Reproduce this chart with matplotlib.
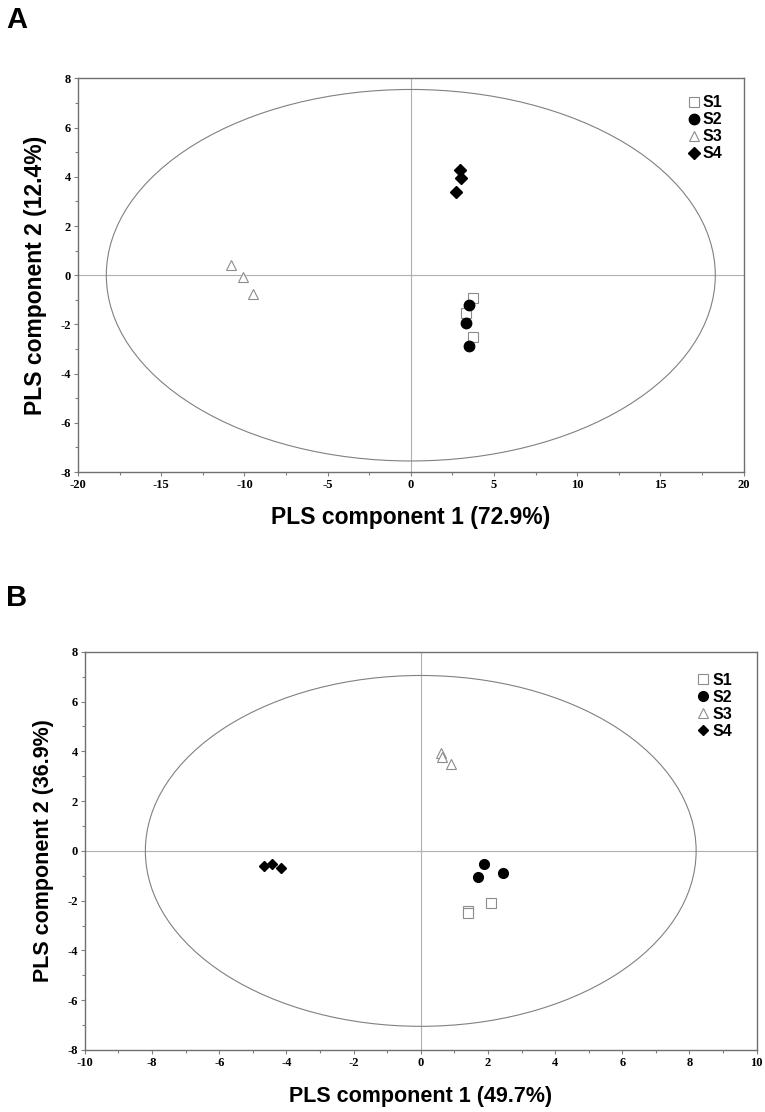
import numpy as np
import matplotlib.pyplot as plt
from matplotlib.patches import Ellipse
from matplotlib.ticker import MultipleLocator

plt.rcParams['axes.unicode_minus'] = False

# --- panel A scores ---
a_s1_x = [3.72, 3.30, 3.72]
a_s1_y = [-0.92, -1.53, -2.53]
a_s2_x = [3.48, 3.33, 3.48]
a_s2_y = [-1.22, -1.96, -2.89]
a_s3_x = [-10.8, -10.1, -9.5]
a_s3_y = [0.41, -0.09, -0.78]
a_s4_x = [2.97, 3.03, 2.70]
a_s4_y = [4.27, 3.96, 3.39]

# --- panel B scores ---
b_s1_x = [1.40, 1.42, 2.08]
b_s1_y = [-2.40, -2.50, -2.08]
b_s2_x = [1.89, 2.44, 1.70]
b_s2_y = [-0.53, -0.87, -1.03]
b_s3_x = [0.60, 0.64, 0.89]
b_s3_y = [3.95, 3.79, 3.51]
b_s4_x = [-4.67, -4.44, -4.17]
b_s4_y = [-0.59, -0.52, -0.68]

labels = ['S1', 'S2', 'S3', 'S4']

tick_font = dict(family='Liberation Serif', weight='bold', size=9)
label_font = dict(family='Liberation Sans', weight='bold')

def draw_panel(ax, xs, ys, ell_w, ell_h, xlim, xmaj, xmin, xlabel, ylabel, lab_size, ms,
               xpad, leg_anchor):
    ax.axhline(0, color='#b0b0b0', lw=0.8, zorder=1)
    ax.axvline(0, color='#b0b0b0', lw=0.8, zorder=1)
    ax.add_patch(Ellipse((0, 0), 2 * ell_w, 2 * ell_h, fill=False,
                         edgecolor='#808080', lw=0.8, zorder=1))
    styles = [
        dict(marker='s', mfc='white', mec='#8c8c8c', mew=0.8, ms=ms),
        dict(marker='o', mfc='black', mec='black', ms=ms + 0.5),
        dict(marker='^', mfc='white', mec='#8c8c8c', mew=0.8, ms=ms + 0.5),
        dict(marker='D', mfc='black', mec='black', ms=ms - 1),
    ]
    for (x, y), st, lab in zip(zip(xs, ys), styles, labels):
        ax.plot(x, y, ls='none', label=lab, zorder=3, **st)

    ax.set_xlim(*xlim)
    ax.set_ylim(-8, 8)
    ax.xaxis.set_major_locator(MultipleLocator(xmaj))
    ax.xaxis.set_minor_locator(MultipleLocator(xmin))
    ax.yaxis.set_major_locator(MultipleLocator(2))
    ax.yaxis.set_minor_locator(MultipleLocator(1))
    ax.tick_params(which='both', direction='out', color='#808080', width=0.8, pad=2)
    ax.tick_params(which='major', length=3)
    ax.tick_params(which='minor', length=2)
    for t in ax.get_xticklabels() + ax.get_yticklabels():
        t.set_fontproperties(tick_font)
    for sp in ax.spines.values():
        sp.set_color('#707070')
        sp.set_linewidth(1.0)
    ax.set_xlabel(xlabel, fontsize=lab_size, labelpad=xpad, **label_font)
    ax.set_ylabel(ylabel, fontsize=lab_size, labelpad=10, **label_font)
    ax.legend(loc='upper right', bbox_to_anchor=leg_anchor, frameon=False,
              handletextpad=0.15, labelspacing=0.12, handlelength=0.8, markerscale=1.0,
              borderaxespad=0.3, prop=dict(family='Liberation Sans', weight='bold', size=11.5))

fig = plt.figure(figsize=(7.65, 11.12), dpi=100)

axA = fig.add_axes([0.102, 0.5755, 0.870, 0.354])
draw_panel(axA, [a_s1_x, a_s2_x, a_s3_x, a_s4_x], [a_s1_y, a_s2_y, a_s3_y, a_s4_y],
           18.3, 7.55, (-20, 20), 5, 2.5,
           'PLS component 1 (72.9%)', 'PLS component 2 (12.4%)', 16.5, 7, 11,
           (0.985, 0.985))

axB = fig.add_axes([0.111, 0.0558, 0.878, 0.358])
draw_panel(axB, [b_s1_x, b_s2_x, b_s3_x, b_s4_x], [b_s1_y, b_s2_y, b_s3_y, b_s4_y],
           8.2, 7.05, (-10, 10), 2, 1,
           'PLS component 1 (49.7%)', 'PLS component 2 (36.9%)', 15.5, 6.5, 12,
           (0.98, 0.975))

fig.text(0.008, 0.995, 'A', fontsize=21, va='top', ha='left', **label_font)
fig.text(0.008, 0.475, 'B', fontsize=21, va='top', ha='left', **label_font)

fig.savefig('out.png', dpi=100, facecolor='white')
